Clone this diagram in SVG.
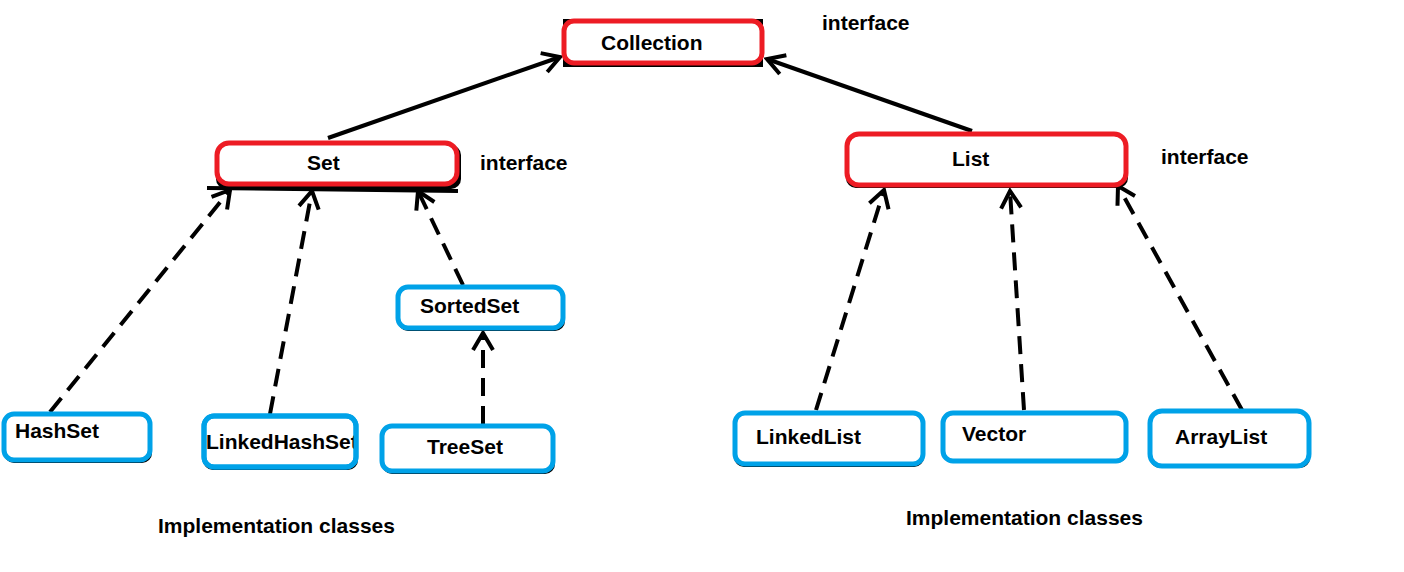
<svg xmlns="http://www.w3.org/2000/svg" width="1404" height="572" viewBox="0 0 1404 572">
<style>
text{font-family:"Liberation Sans",Arial,sans-serif;font-weight:bold;font-size:21px;fill:#000}
.sh{fill:#000}
.iface{fill:#fff;stroke:#ed1c24;stroke-width:5}
.impl{fill:#fff;stroke:#00a2e8;stroke-width:5}
.solid{stroke:#000;stroke-width:4;fill:none}
.dash{stroke:#000;stroke-width:4;fill:none;stroke-dasharray:18,10}
</style>
<defs>
<marker id="ah" viewBox="0 0 24 24" refX="21" refY="12" markerWidth="24" markerHeight="24" markerUnits="userSpaceOnUse" orient="auto">
<path d="M4,2 L21,12 L4,22" stroke="#000" stroke-width="4" fill="none"/>
</marker>
</defs>
<g id="connectors">
<line class="solid" x1="328" y1="138" x2="560" y2="57" marker-end="url(#ah)"/>
<line class="solid" x1="972" y1="131" x2="767" y2="59" marker-end="url(#ah)"/>
<line class="dash" x1="50" y1="412" x2="230" y2="190" marker-end="url(#ah)"/>
<line class="dash" x1="270" y1="414" x2="312" y2="191" marker-end="url(#ah)"/>
<line class="dash" x1="463" y1="285" x2="418" y2="191" marker-end="url(#ah)"/>
<line class="dash" x1="483" y1="424" x2="483" y2="333" marker-end="url(#ah)"/>
<line class="dash" x1="816" y1="410" x2="884" y2="190" marker-end="url(#ah)"/>
<line class="dash" x1="1024" y1="410" x2="1010" y2="191" marker-end="url(#ah)"/>
<line class="dash" x1="1242" y1="410" x2="1118" y2="186" marker-end="url(#ah)"/>
<line class="solid" x1="207" y1="188" x2="458" y2="191"/>
</g>
<g id="collection">
<rect class="sh" x="563" y="19" width="200" height="48"/>
<rect class="iface" x="564" y="21" width="198" height="42" rx="10"/>
<text x="601" y="50">Collection</text>
</g>
<text x="822" y="30">interface</text>
<g id="set">
<rect class="sh" x="216" y="145" width="245" height="44" rx="10"/>
<rect class="iface" x="217" y="143" width="240" height="41" rx="12"/>
<text x="307" y="170">Set</text>
</g>
<text x="480" y="170">interface</text>
<g id="list">
<rect class="sh" x="846" y="136" width="282" height="52" rx="10"/>
<rect class="iface" x="847" y="134" width="279" height="51" rx="12"/>
<text x="952" y="166">List</text>
</g>
<text x="1161" y="164">interface</text>
<g id="hashset">
<rect class="sh" x="4" y="415" width="148" height="48" rx="10"/>
<rect class="impl" x="4" y="414" width="146" height="46" rx="10"/>
<text x="15" y="438">HashSet</text>
</g>
<g id="linkedhashset">
<rect class="sh" x="203" y="417" width="155" height="53" rx="10"/>
<rect class="impl" x="204" y="416" width="152" height="51" rx="10"/>
<text x="206" y="449">LinkedHashSet</text>
<rect x="204" y="416" width="152" height="51" rx="10" fill="none" stroke="#00a2e8" stroke-width="5"/>
</g>
<g id="sortedset">
<rect class="sh" x="398" y="288" width="167" height="43" rx="10"/>
<rect class="impl" x="398" y="287" width="165" height="41" rx="10"/>
<text x="420" y="313">SortedSet</text>
</g>
<g id="treeset">
<rect class="sh" x="382" y="427" width="173" height="47" rx="10"/>
<rect class="impl" x="382" y="426" width="171" height="45" rx="10"/>
<text x="427" y="454">TreeSet</text>
</g>
<g id="linkedlist">
<rect class="sh" x="734" y="412" width="190" height="55" rx="10"/>
<rect class="impl" x="735" y="413" width="188" height="51" rx="10"/>
<text x="756" y="444">LinkedList</text>
</g>
<g id="vector">
<rect class="sh" x="943" y="413" width="184" height="50" rx="10"/>
<rect class="impl" x="943" y="413" width="183" height="48" rx="10"/>
<text x="962" y="441">Vector</text>
</g>
<g id="arraylist">
<rect class="sh" x="1150" y="411" width="160" height="57" rx="10"/>
<rect class="impl" x="1150" y="411" width="159" height="55" rx="12"/>
<text x="1175" y="444">ArrayList</text>
</g>
<text x="158" y="533">Implementation classes</text>
<text x="906" y="525">Implementation classes</text>
</svg>
